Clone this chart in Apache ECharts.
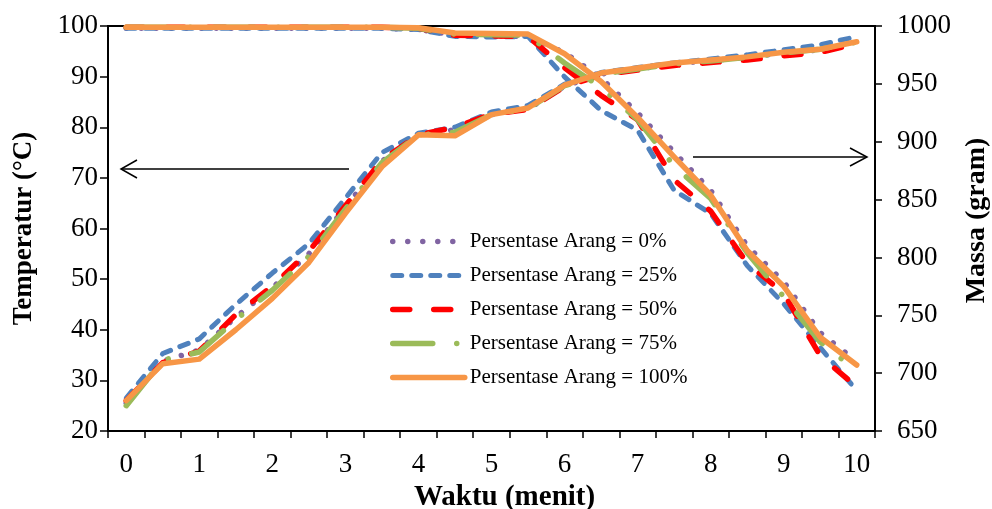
<!DOCTYPE html>
<html><head><meta charset="utf-8">
<script src="https://cdn.jsdelivr.net/npm/echarts@6/dist/echarts.min.js"></script>
<style>html,body{margin:0;padding:0;background:#fff}#c{width:992px;height:509px}</style>
</head><body><div id="c"></div>
<script>
// Time (minutes), every half minute
const time = ['0','0.5','1','1.5','2','2.5','3','3.5','4','4.5','5','5.5','6','6.5','7','7.5','8','8.5','9','9.5','10'];
const seriesNames = ['Persentase Arang = 0%','Persentase Arang = 25%','Persentase Arang = 50%','Persentase Arang = 75%','Persentase Arang = 100%'];

// Temperature (°C) – left axis
const temp0   = [25.5,33.8,36.0,42.5,48.3,55.0,64.2,73.3,78.5,79.5,82.5,83.6,88.1,90.5,91.5,92.5,93.2,93.8,94.7,95.3,96.8];
const temp25  = [26.5,35.3,38.2,45.0,51.2,57.0,66.0,75.0,78.8,80.0,83.0,84.3,88.5,90.8,91.8,92.7,93.5,94.3,95.3,96.3,97.9];
const temp50  = [26.0,33.5,35.8,43.0,48.6,55.5,64.5,73.5,78.5,80.0,82.6,83.5,88.0,90.3,91.3,92.2,92.8,93.3,94.1,94.8,96.5];
const temp75  = [25.0,34.0,35.6,42.0,47.8,54.5,63.8,73.0,78.5,79.0,82.5,83.7,88.2,90.5,91.5,92.5,93.1,93.8,94.7,95.4,96.8];
const temp100 = [26.0,33.3,34.2,40.0,46.2,53.3,63.0,72.2,78.5,78.3,82.5,83.8,88.3,90.7,91.7,92.7,93.3,93.9,94.8,95.4,96.9];

// Mass (gram) – right axis
const mass0   = [998,998,998,998,998,998,998,998,997,992,991.5,991,977,955,925,891,858,810,779,735,710];
const mass25  = [998,998,998,998,998,998,998,998,997,991,990.5,991,956,927,910,858,838,793,760,722,685];
const mass50  = [999,999,999,999,999,999,999,999,998,992,991.5,991,964,940,919,867,840,795,769,715,688];
const mass75  = [999,999,999,999,999,999,999,999,998,993,992.5,992,968,947,919,879,851,804,766,727,702];
const mass100 = [999,999,999,999,999,999,999,999,998.5,994,993.5,993,976,952,921,887,854,806,775,731,707];

const tempTicks = {min:20, max:100, step:10};
const massTicks = {min:650, max:1000, step:50};

const FONT = "'Liberation Serif','Times New Roman',serif";
const styles = [
  {color:'#8064A2', width:5.5, type:[0.01, 15], cap:'round'},
  {color:'#4F81BD', width:5, type:[9, 10], cap:'round'},
  {color:'#FF0000', width:5.5, type:[17, 24], cap:'round'},
  {color:'#9BBB59', width:5.5, type:[40, 24, 0.01, 24], cap:'round'},
  {color:'#F79646', width:5.5, type:'solid', cap:'round'}
];
const temps = [temp0,temp25,temp50,temp75,temp100];
const masses = [mass0,mass25,mass50,mass75,mass100];

const series = [];
for (let i = 0; i < 5; i++) {
  const st = styles[i];
  const base = {
    type:'line', name:seriesNames[i], symbol:'none', smooth:false,
    color: st.color,
    lineStyle:{color:st.color, width:st.width, type:st.type, cap:st.cap, join:'round'},
    z: 2 + i
  };
  series.push(Object.assign({}, base, {yAxisIndex:0, data:temps[i]}));
  series.push(Object.assign({}, base, {yAxisIndex:1, data:masses[i]}));
}

const legendData = seriesNames.map((n, i) => ({
  name:n,
  itemStyle:{opacity:0, color:'rgba(0,0,0,0)', borderWidth:0},
  lineStyle:{width:styles[i].width, type:styles[i].type, cap:styles[i].cap, color:styles[i].color}
}));

const chart = echarts.init(document.getElementById('c'));
chart.setOption({
  animation:false,
  backgroundColor:'#fff',
  grid:{left:108, right:117, top:26, bottom:78, show:true, borderColor:'#000', borderWidth:2,
        containLabel:false, outerBoundsMode:'none'},
  legend:{
    data:legendData, orient:'vertical', left:385, top:226,
    itemWidth:72, itemHeight:14, itemGap:13,
    itemStyle:{opacity:0},
    textStyle:{fontFamily:FONT, fontSize:21, color:'#000'}
  },
  xAxis:{
    type:'category', data:time, boundaryGap:true,
    name:'Waktu (menit)', nameLocation:'middle', nameGap:52,
    nameTextStyle:{fontFamily:FONT, fontSize:29, fontWeight:'bold', color:'#000', padding:[0,0,0,26]},
    axisLine:{lineStyle:{color:'#000', width:2}},
    axisTick:{show:true, interval:0, alignWithLabel:false, length:7, lineStyle:{color:'#000', width:1.5}},
    axisLabel:{interval:1, margin:20, fontFamily:FONT, fontSize:27, color:'#000'},
    splitLine:{show:false}
  },
  yAxis:[
    {type:'value', min:tempTicks.min, max:tempTicks.max, interval:tempTicks.step, position:'left',
     name:'Temperatur (°C)', nameLocation:'middle', nameGap:70, nameRotate:90,
     nameTextStyle:{fontFamily:FONT, fontSize:27, fontWeight:'bold', color:'#000'},
     axisLine:{show:true, lineStyle:{color:'#000', width:2}},
     axisTick:{show:true, length:8, lineStyle:{color:'#000', width:1.5}},
     axisLabel:{margin:10, fontFamily:FONT, fontSize:27, color:'#000'},
     splitLine:{show:false}},
    {type:'value', min:massTicks.min, max:massTicks.max, interval:massTicks.step, position:'right',
     name:'Massa (gram)', nameLocation:'middle', nameGap:88, nameRotate:90,
     nameTextStyle:{fontFamily:FONT, fontSize:28, fontWeight:'bold', color:'#000', padding:[0,0,0,16]},
     axisLine:{show:true, lineStyle:{color:'#000', width:2}},
     axisTick:{show:true, length:7, lineStyle:{color:'#000', width:1.5}},
     axisLabel:{margin:22, fontFamily:FONT, fontSize:27, color:'#000', formatter:(v) => String(v)},
     splitLine:{show:false}}
  ],
  graphic:[
    {type:'polyline', shape:{points:[[349,169],[121,169]]}, style:{stroke:'#000', lineWidth:1.5, fill:null}, z:100},
    {type:'polyline', shape:{points:[[137,160],[121,169],[137,178]]}, style:{stroke:'#000', lineWidth:1.5, fill:null}, z:100},
    {type:'polyline', shape:{points:[[693,157],[867,157]]}, style:{stroke:'#000', lineWidth:1.5, fill:null}, z:100},
    {type:'polyline', shape:{points:[[850,148],[867,157],[850,166]]}, style:{stroke:'#000', lineWidth:1.5, fill:null}, z:100}
  ],
  series: series
});
</script>
</body></html>
